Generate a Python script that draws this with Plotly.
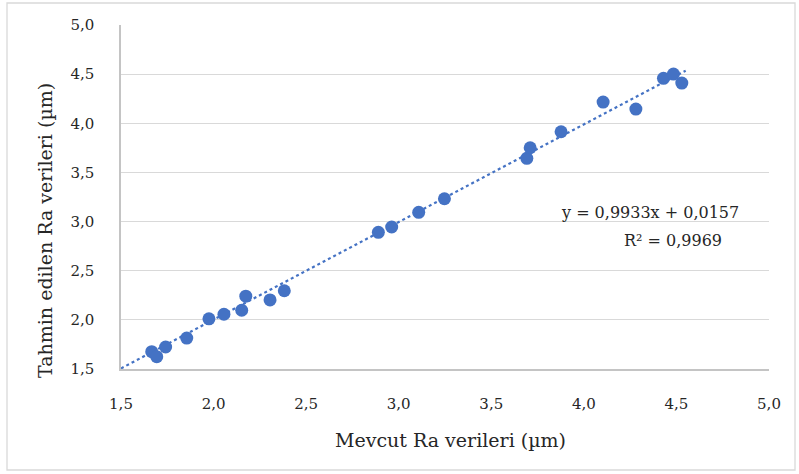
import plotly.graph_objects as go

mevcut = [1.666, 1.693, 1.741, 1.855, 1.975, 2.056, 2.152, 2.174, 2.305, 2.382,
          2.890, 2.962, 3.108, 3.247, 3.692, 3.710, 3.877, 4.104, 4.281, 4.430, 4.484, 4.529]
tahmin = [1.676, 1.625, 1.724, 1.815, 2.010, 2.057, 2.098, 2.241, 2.203, 2.296,
          2.891, 2.945, 3.094, 3.232, 3.643, 3.751, 3.914, 4.216, 4.145, 4.457, 4.501, 4.409]
slope = 0.9933
intercept = 0.0157
r2 = 0.9969
tick_vals = [1.5, 2.0, 2.5, 3.0, 3.5, 4.0, 4.5, 5.0]
tick_text = ["1,5", "2,0", "2,5", "3,0", "3,5", "4,0", "4,5", "5,0"]
trend_x = [1.5, 4.55]
trend_y = [slope * v + intercept for v in trend_x]

FONT = "DejaVu Serif"
TXT = "#262626"

fig = go.Figure()
fig.add_trace(go.Scatter(x=trend_x, y=trend_y, mode="lines",
                         line=dict(color="#4472C4", width=2.2, dash="dot"),
                         hoverinfo="skip", showlegend=False))
fig.add_trace(go.Scatter(x=mevcut, y=tahmin, mode="markers",
                         marker=dict(color="#4472C4", size=13),
                         showlegend=False))

fig.update_layout(
    width=799, height=474,
    margin=dict(l=121, r=30, t=25, b=105),
    paper_bgcolor="white", plot_bgcolor="white",
    font=dict(family=FONT, color=TXT, size=16),
    xaxis=dict(range=[1.5, 5.0], tickvals=tick_vals, ticktext=tick_text,
               showgrid=False, zeroline=False, showline=True,
               linecolor="#c4c4c4", linewidth=1.5, ticks="",
               ticklabelstandoff=20, tickfont=dict(size=15, family=FONT, color=TXT)),
    yaxis=dict(range=[1.5, 5.0], tickvals=tick_vals, ticktext=tick_text,
               showgrid=True, gridcolor="#d9d9d9", gridwidth=1.3,
               zeroline=False, showline=True,
               linecolor="#c4c4c4", linewidth=1.5, ticks="",
               ticklabelstandoff=22, tickfont=dict(size=15, family=FONT, color=TXT)),
    annotations=[
        dict(text="Mevcut Ra verileri (µm)", xref="paper", yref="paper",
             x=(450 - 121) / 648, y=(369 - 440) / 344, showarrow=False,
             xanchor="center", yanchor="middle",
             font=dict(size=19, family=FONT, color=TXT)),
        dict(text="Tahmin edilen Ra verileri (µm)", xref="paper", yref="paper",
             x=(45 - 121) / 648, y=(369 - 231) / 344, showarrow=False,
             textangle=-90, xanchor="center", yanchor="middle",
             font=dict(size=19, family=FONT, color=TXT)),
        dict(text="y = 0,9933x + 0,0157", xref="paper", yref="paper",
             x=(741 - 121) / 648, y=(369 - 212) / 344, showarrow=False,
             xanchor="right", yanchor="middle",
             font=dict(size=16, family=FONT, color=TXT)),
        dict(text="R² = 0,9969", xref="paper", yref="paper",
             x=(724 - 121) / 648, y=(369 - 240) / 344, showarrow=False,
             xanchor="right", yanchor="middle",
             font=dict(size=16, family=FONT, color=TXT)),
    ],
    shapes=[
        dict(type="rect", xref="paper", yref="paper",
             x0=(7 - 121) / 648, x1=(795 - 121) / 648,
             y0=(369 - 470) / 344, y1=(369 - 3) / 344,
             line=dict(color="#d9d9d9", width=1.3), layer="below"),
    ],
)

fig.write_html("out.html")
